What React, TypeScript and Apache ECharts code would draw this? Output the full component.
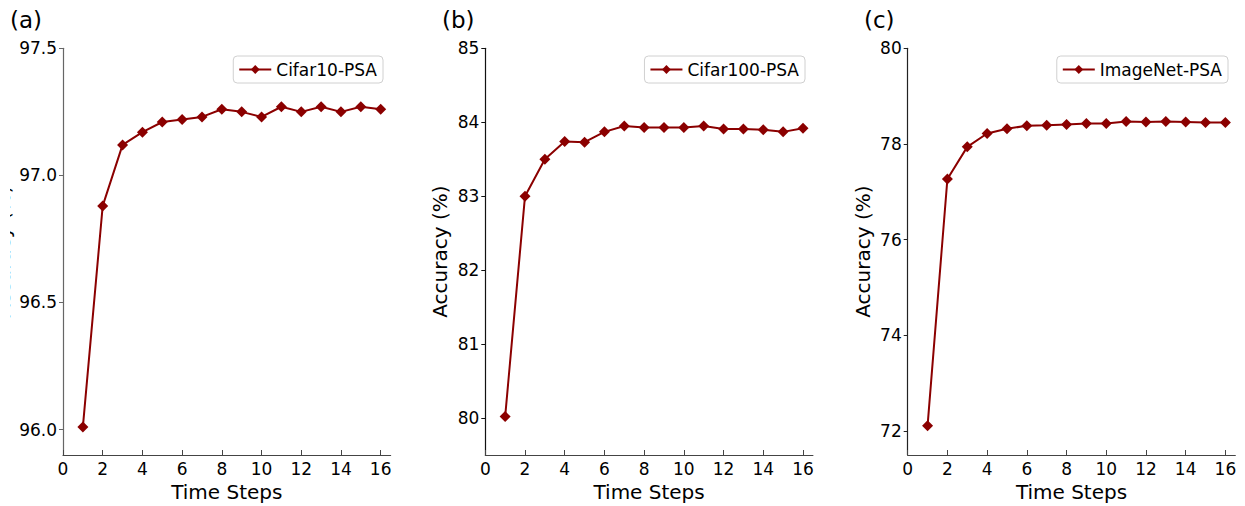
import React, { useEffect, useRef } from "react";
import * as echarts from "echarts";

const steps = [1, 2, 3, 4, 5, 6, 7, 8, 9, 10, 11, 12, 13, 14, 15, 16];
const cifar10 = [96.01, 96.88, 97.12, 97.17, 97.21, 97.22, 97.23, 97.26, 97.25, 97.23, 97.27, 97.25, 97.27, 97.25, 97.27, 97.26];
const cifar100 = [80.02, 83.0, 83.5, 83.74, 83.73, 83.87, 83.95, 83.93, 83.93, 83.93, 83.95, 83.91, 83.91, 83.9, 83.87, 83.92];
const imagenet = [72.11, 77.27, 77.94, 78.22, 78.32, 78.38, 78.39, 78.41, 78.43, 78.43, 78.47, 78.46, 78.47, 78.46, 78.45, 78.45];

const xTicks = [0, 2, 4, 6, 8, 10, 12, 14, 16];
const yTicksA = [96.0, 96.5, 97.0, 97.5];
const yTicksB = [80, 81, 82, 83, 84, 85];
const yTicksC = [72, 74, 76, 78, 80];

const seriesNames = ["Cifar10-PSA", "Cifar100-PSA", "ImageNet-PSA"];
const panelTitles = ["(a)", "(b)", "(c)"];
const xName = "Time Steps";
const yName = "Accuracy (%)";

const FONT = "DejaVu Sans";
const RED = "#8B0000";

export default function App() {
  const ref = useRef<HTMLDivElement>(null);
  useEffect(() => {
    if (!ref.current) return;
    const chart = echarts.init(ref.current, null, { renderer: "svg" });
    const gridLefts = [63, 485.3, 907.7];
    const gridW = 327.6;
    const yDefs = [
      { min: 95.9, max: 97.5, ticks: yTicksA, dec: 1, gap: 50, color: "#666" },
      { min: 79.5, max: 85, ticks: yTicksB, dec: 0, gap: 35, color: "#111" },
      { min: 71.5, max: 80, ticks: yTicksC, dec: 0, gap: 35, color: "#222" },
    ];
    const datas = [cifar10, cifar100, imagenet];
    const legendRights = [862, 440, 17];

    const option: any = {
      animation: false,
      backgroundColor: "#fff",
      title: panelTitles.map((t, i) => ({
        text: t,
        left: [5, 437, 859][i],
        top: 3,
        textStyle: { fontFamily: FONT, fontSize: 23, fontWeight: "normal", color: "#000" },
      })),
      // the reference image is cropped on its left edge: only the tips of panel (a)'s y label remain
      graphic: [
        {
          type: "rect",
          left: 0,
          top: 80,
          shape: { width: 10, height: 340 },
          style: { fill: "#fff" },
          z: 100,
          silent: true,
        },
      ],
      grid: gridLefts.map((l) => ({
        left: l,
        width: gridW,
        top: 48.3,
        bottom: 51,
        containLabel: false,
        outerBoundsMode: "none",
      })),
      xAxis: gridLefts.map((_, i) => ({
        type: "value",
        gridIndex: i,
        min: 0,
        max: 16.5,
        name: xName,
        nameLocation: "middle",
        nameGap: 19,
        nameTextStyle: { fontFamily: FONT, fontSize: 20, color: "#000" },
        axisLine: { show: true, lineStyle: { color: "#444", width: 1.2 } },
        axisTick: { show: true, inside: true, length: 5, lineStyle: { color: "#444" }, customValues: xTicks },
        axisLabel: {
          customValues: xTicks,
          margin: 5,
          fontFamily: FONT,
          fontSize: 17,
          color: "#000",
        },
        splitLine: { show: false },
      })),
      yAxis: yDefs.map((d, i) => ({
        type: "value",
        gridIndex: i,
        min: d.min,
        max: d.max,
        name: yName,
        nameLocation: "middle",
        nameGap: d.gap,
        nameRotate: 90,
        nameTextStyle: { fontFamily: FONT, fontSize: 20, color: "#000" },
        axisLine: { show: true, lineStyle: { color: d.color, width: 1.2 } },
        axisTick: { show: true, inside: false, length: 4, lineStyle: { color: d.color }, customValues: d.ticks },
        axisLabel: {
          customValues: d.ticks,
          margin: 6,
          fontFamily: FONT,
          fontSize: 17,
          color: "#000",
          formatter: (v: number) => v.toFixed(d.dec),
        },
        splitLine: { show: false },
      })),
      legend: seriesNames.map((n, i) => ({
        data: [n],
        right: legendRights[i],
        top: 56,
        orient: "vertical",
        itemWidth: 32,
        itemHeight: 11,
        padding: [5, 6, 5, 5],
        borderColor: "#d0d0d0",
        borderWidth: 1,
        borderRadius: 4,
        backgroundColor: "#fff",
        textStyle: { fontFamily: FONT, fontSize: 17, color: "#000" },
      })),
      series: seriesNames.map((n, i) => ({
        name: n,
        type: "line",
        xAxisIndex: i,
        yAxisIndex: i,
        data: steps.map((s, k) => [s, datas[i][k]]),
        symbol: "diamond",
        symbolSize: 11,
        lineStyle: { color: RED, width: 2 },
        itemStyle: { color: RED },
        color: RED,
      })),
    };
    chart.setOption(option);
    return () => chart.dispose();
  }, []);
  return (
    <div
      ref={ref}
      style={{ position: "fixed", left: 0, top: 0, width: 1245, height: 506 }}
    />
  );
}
